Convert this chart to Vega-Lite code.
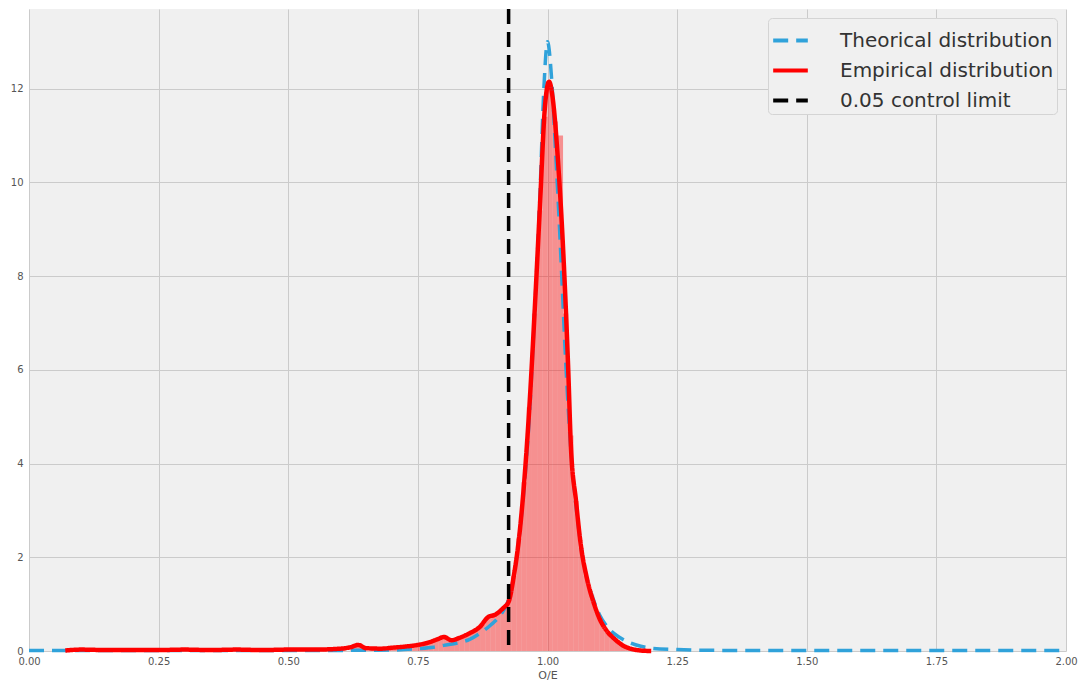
{
  "$schema": "https://vega.github.io/schema/vega-lite/v6.json",
  "width": 1037,
  "height": 642,
  "autosize": {"type": "none"},
  "padding": {"left": 29, "top": 9, "right": 15, "bottom": 37},
  "background": "white",
  "datasets": {
    "hist": [
      {"x0": 0.07, "x1": 0.08, "h": 0.02},
      {"x0": 0.09, "x1": 0.1, "h": 0.03},
      {"x0": 0.1, "x1": 0.11, "h": 0.03},
      {"x0": 0.25, "x1": 0.26, "h": 0.02},
      {"x0": 0.29, "x1": 0.3, "h": 0.04},
      {"x0": 0.39, "x1": 0.4, "h": 0.03},
      {"x0": 0.49, "x1": 0.5, "h": 0.03},
      {"x0": 0.58, "x1": 0.59, "h": 0.04},
      {"x0": 0.6, "x1": 0.61, "h": 0.05},
      {"x0": 0.62, "x1": 0.63, "h": 0.09},
      {"x0": 0.63, "x1": 0.64, "h": 0.12},
      {"x0": 0.64, "x1": 0.65, "h": 0.07},
      {"x0": 0.66, "x1": 0.67, "h": 0.05},
      {"x0": 0.68, "x1": 0.69, "h": 0.05},
      {"x0": 0.69, "x1": 0.7, "h": 0.06},
      {"x0": 0.7, "x1": 0.71, "h": 0.07},
      {"x0": 0.71, "x1": 0.72, "h": 0.08},
      {"x0": 0.72, "x1": 0.73, "h": 0.09},
      {"x0": 0.73, "x1": 0.74, "h": 0.1},
      {"x0": 0.74, "x1": 0.75, "h": 0.12},
      {"x0": 0.75, "x1": 0.76, "h": 0.14},
      {"x0": 0.76, "x1": 0.77, "h": 0.16},
      {"x0": 0.77, "x1": 0.78, "h": 0.19},
      {"x0": 0.78, "x1": 0.79, "h": 0.23},
      {"x0": 0.79, "x1": 0.8, "h": 0.28},
      {"x0": 0.8, "x1": 0.81, "h": 0.28},
      {"x0": 0.81, "x1": 0.82, "h": 0.23},
      {"x0": 0.82, "x1": 0.83, "h": 0.26},
      {"x0": 0.83, "x1": 0.84, "h": 0.3},
      {"x0": 0.84, "x1": 0.85, "h": 0.35},
      {"x0": 0.85, "x1": 0.86, "h": 0.41},
      {"x0": 0.86, "x1": 0.87, "h": 0.48},
      {"x0": 0.87, "x1": 0.88, "h": 0.57},
      {"x0": 0.88, "x1": 0.89, "h": 0.7},
      {"x0": 0.89, "x1": 0.9, "h": 0.76},
      {"x0": 0.9, "x1": 0.91, "h": 0.82},
      {"x0": 0.91, "x1": 0.92, "h": 0.92},
      {"x0": 0.92, "x1": 0.93, "h": 1.1},
      {"x0": 0.93, "x1": 0.94, "h": 1.6},
      {"x0": 0.94, "x1": 0.95, "h": 2.4},
      {"x0": 0.95, "x1": 0.96, "h": 3.6},
      {"x0": 0.96, "x1": 0.97, "h": 5.2},
      {"x0": 0.97, "x1": 0.98, "h": 7.2},
      {"x0": 0.98, "x1": 0.99, "h": 9.4},
      {"x0": 0.99, "x1": 1.0, "h": 11.4},
      {"x0": 1.0, "x1": 1.01, "h": 12.0},
      {"x0": 1.01, "x1": 1.02, "h": 11.3},
      {"x0": 1.02, "x1": 1.03, "h": 11.0},
      {"x0": 1.03, "x1": 1.04, "h": 7.2},
      {"x0": 1.04, "x1": 1.05, "h": 4.6},
      {"x0": 1.05, "x1": 1.06, "h": 3.2},
      {"x0": 1.06, "x1": 1.07, "h": 2.2},
      {"x0": 1.07, "x1": 1.08, "h": 1.6},
      {"x0": 1.08, "x1": 1.09, "h": 1.2},
      {"x0": 1.09, "x1": 1.1, "h": 0.85},
      {"x0": 1.1, "x1": 1.11, "h": 0.6},
      {"x0": 1.11, "x1": 1.12, "h": 0.42},
      {"x0": 1.12, "x1": 1.13, "h": 0.3},
      {"x0": 1.13, "x1": 1.14, "h": 0.2},
      {"x0": 1.14, "x1": 1.15, "h": 0.12},
      {"x0": 1.15, "x1": 1.16, "h": 0.07},
      {"x0": 1.16, "x1": 1.17, "h": 0.04},
      {"x0": 1.17, "x1": 1.18, "h": 0.02},
      {"x0": 1.18, "x1": 1.19, "h": 0.01}
    ],
    "theo": [
      {"series": "Theorical distribution", "x": 0.0, "y": 0.01},
      {"series": "Theorical distribution", "x": 0.5, "y": 0.01},
      {"series": "Theorical distribution", "x": 0.7, "y": 0.02},
      {"series": "Theorical distribution", "x": 0.75, "y": 0.05},
      {"series": "Theorical distribution", "x": 0.78, "y": 0.08},
      {"series": "Theorical distribution", "x": 0.8, "y": 0.12},
      {"series": "Theorical distribution", "x": 0.83, "y": 0.18},
      {"series": "Theorical distribution", "x": 0.85, "y": 0.25},
      {"series": "Theorical distribution", "x": 0.87, "y": 0.38},
      {"series": "Theorical distribution", "x": 0.89, "y": 0.55},
      {"series": "Theorical distribution", "x": 0.91, "y": 0.78},
      {"series": "Theorical distribution", "x": 0.925, "y": 1.1},
      {"series": "Theorical distribution", "x": 0.935, "y": 1.6},
      {"series": "Theorical distribution", "x": 0.945, "y": 2.4},
      {"series": "Theorical distribution", "x": 0.955, "y": 3.5},
      {"series": "Theorical distribution", "x": 0.965, "y": 5.0},
      {"series": "Theorical distribution", "x": 0.975, "y": 7.2},
      {"series": "Theorical distribution", "x": 0.985, "y": 9.6},
      {"series": "Theorical distribution", "x": 0.993, "y": 12.0},
      {"series": "Theorical distribution", "x": 1.0, "y": 13.0},
      {"series": "Theorical distribution", "x": 1.008, "y": 12.2},
      {"series": "Theorical distribution", "x": 1.015, "y": 10.8},
      {"series": "Theorical distribution", "x": 1.025, "y": 8.6},
      {"series": "Theorical distribution", "x": 1.035, "y": 6.2},
      {"series": "Theorical distribution", "x": 1.045, "y": 4.3},
      {"series": "Theorical distribution", "x": 1.055, "y": 3.1},
      {"series": "Theorical distribution", "x": 1.065, "y": 2.2},
      {"series": "Theorical distribution", "x": 1.075, "y": 1.6},
      {"series": "Theorical distribution", "x": 1.09, "y": 1.05},
      {"series": "Theorical distribution", "x": 1.1, "y": 0.78},
      {"series": "Theorical distribution", "x": 1.115, "y": 0.52},
      {"series": "Theorical distribution", "x": 1.13, "y": 0.36},
      {"series": "Theorical distribution", "x": 1.145, "y": 0.25},
      {"series": "Theorical distribution", "x": 1.16, "y": 0.17},
      {"series": "Theorical distribution", "x": 1.18, "y": 0.1},
      {"series": "Theorical distribution", "x": 1.2, "y": 0.06},
      {"series": "Theorical distribution", "x": 1.25, "y": 0.03},
      {"series": "Theorical distribution", "x": 1.3, "y": 0.015},
      {"series": "Theorical distribution", "x": 1.5, "y": 0.01},
      {"series": "Theorical distribution", "x": 2.0, "y": 0.01}
    ],
    "emp": [
      {"series": "Empirical distribution", "x": 0.07, "y": 0.01},
      {"series": "Empirical distribution", "x": 0.1, "y": 0.03},
      {"series": "Empirical distribution", "x": 0.15, "y": 0.02},
      {"series": "Empirical distribution", "x": 0.2, "y": 0.02},
      {"series": "Empirical distribution", "x": 0.25, "y": 0.02},
      {"series": "Empirical distribution", "x": 0.3, "y": 0.03},
      {"series": "Empirical distribution", "x": 0.35, "y": 0.02},
      {"series": "Empirical distribution", "x": 0.4, "y": 0.03},
      {"series": "Empirical distribution", "x": 0.45, "y": 0.02},
      {"series": "Empirical distribution", "x": 0.5, "y": 0.03},
      {"series": "Empirical distribution", "x": 0.55, "y": 0.03},
      {"series": "Empirical distribution", "x": 0.6, "y": 0.05},
      {"series": "Empirical distribution", "x": 0.62, "y": 0.08},
      {"series": "Empirical distribution", "x": 0.635, "y": 0.13},
      {"series": "Empirical distribution", "x": 0.65, "y": 0.06},
      {"series": "Empirical distribution", "x": 0.68, "y": 0.05},
      {"series": "Empirical distribution", "x": 0.7, "y": 0.07},
      {"series": "Empirical distribution", "x": 0.73, "y": 0.1},
      {"series": "Empirical distribution", "x": 0.75, "y": 0.13},
      {"series": "Empirical distribution", "x": 0.77, "y": 0.18},
      {"series": "Empirical distribution", "x": 0.79, "y": 0.26},
      {"series": "Empirical distribution", "x": 0.8, "y": 0.3},
      {"series": "Empirical distribution", "x": 0.815, "y": 0.23},
      {"series": "Empirical distribution", "x": 0.83, "y": 0.28},
      {"series": "Empirical distribution", "x": 0.85, "y": 0.38},
      {"series": "Empirical distribution", "x": 0.87, "y": 0.52},
      {"series": "Empirical distribution", "x": 0.885, "y": 0.72},
      {"series": "Empirical distribution", "x": 0.9, "y": 0.78},
      {"series": "Empirical distribution", "x": 0.915, "y": 0.92},
      {"series": "Empirical distribution", "x": 0.925, "y": 1.05},
      {"series": "Empirical distribution", "x": 0.935, "y": 1.6},
      {"series": "Empirical distribution", "x": 0.945, "y": 2.4},
      {"series": "Empirical distribution", "x": 0.955, "y": 3.6},
      {"series": "Empirical distribution", "x": 0.965, "y": 5.2},
      {"series": "Empirical distribution", "x": 0.975, "y": 7.2},
      {"series": "Empirical distribution", "x": 0.985, "y": 9.4},
      {"series": "Empirical distribution", "x": 0.995, "y": 11.6},
      {"series": "Empirical distribution", "x": 1.003, "y": 12.15},
      {"series": "Empirical distribution", "x": 1.01, "y": 11.8},
      {"series": "Empirical distribution", "x": 1.02, "y": 10.5},
      {"series": "Empirical distribution", "x": 1.03, "y": 8.6},
      {"series": "Empirical distribution", "x": 1.04, "y": 6.0},
      {"series": "Empirical distribution", "x": 1.045, "y": 4.4},
      {"series": "Empirical distribution", "x": 1.055, "y": 3.2},
      {"series": "Empirical distribution", "x": 1.065, "y": 2.2},
      {"series": "Empirical distribution", "x": 1.075, "y": 1.6},
      {"series": "Empirical distribution", "x": 1.09, "y": 1.0},
      {"series": "Empirical distribution", "x": 1.1, "y": 0.7},
      {"series": "Empirical distribution", "x": 1.115, "y": 0.42},
      {"series": "Empirical distribution", "x": 1.13, "y": 0.25},
      {"series": "Empirical distribution", "x": 1.145, "y": 0.12},
      {"series": "Empirical distribution", "x": 1.16, "y": 0.05},
      {"series": "Empirical distribution", "x": 1.18, "y": 0.01},
      {"series": "Empirical distribution", "x": 1.2, "y": 0.0}
    ],
    "limit": [
      {"series": "0.05 control limit", "x": 0.925}
    ]
  },
  "layer": [
    {
      "data": {"name": "hist"},
      "mark": {"type": "rect", "color": "#ff0000", "opacity": 0.4, "strokeWidth": 0},
      "encoding": {
        "x": {"field": "x0", "type": "quantitative", "scale": {"domain": [0, 2], "nice": false, "zero": false}, "axis": {"title": "O/E", "values": [0, 0.25, 0.5, 0.75, 1, 1.25, 1.5, 1.75, 2], "format": ".2f", "labelPadding": 5, "titlePadding": 3, "labelFlush": false}},
        "x2": {"field": "x1"},
        "y": {"field": "h", "type": "quantitative", "scale": {"domain": [0, 13.7], "nice": false, "zero": true}, "axis": {"title": null, "values": [0, 2, 4, 6, 8, 10, 12], "format": "d", "labelPadding": 6, "labelFlush": false}},
        "y2": {"datum": 0}
      }
    },
    {
      "data": {"name": "theo"},
      "mark": {"type": "line", "strokeWidth": 3.5, "interpolate": "monotone"},
      "encoding": {
        "x": {"field": "x", "type": "quantitative"},
        "y": {"field": "y", "type": "quantitative"},
        "color": {"field": "series", "type": "nominal"},
        "strokeDash": {"field": "series", "type": "nominal"}
      }
    },
    {
      "data": {"name": "emp"},
      "mark": {"type": "line", "strokeWidth": 4.5, "interpolate": "monotone"},
      "encoding": {
        "x": {"field": "x", "type": "quantitative"},
        "y": {"field": "y", "type": "quantitative"},
        "color": {"field": "series", "type": "nominal"},
        "strokeDash": {"field": "series", "type": "nominal"}
      }
    },
    {
      "data": {"name": "limit"},
      "mark": {"type": "rule", "strokeWidth": 3.5},
      "encoding": {
        "x": {"field": "x", "type": "quantitative"},
        "color": {
          "field": "series", "type": "nominal",
          "scale": {"domain": ["Theorical distribution", "Empirical distribution", "0.05 control limit"], "range": ["#30a2da", "#ff0000", "#000000"]},
          "legend": {"title": null}
        },
        "strokeDash": {
          "field": "series", "type": "nominal",
          "scale": {"domain": ["Theorical distribution", "Empirical distribution", "0.05 control limit"], "range": [[15, 8], [1, 0], [15, 8]]},
          "legend": {"title": null}
        }
      }
    }
  ],
  "config": {
    "font": "DejaVu Sans",
    "view": {"fill": "#f0f0f0", "stroke": null},
    "axis": {
      "grid": true,
      "gridColor": "#cbcbcb",
      "gridWidth": 1,
      "domain": false,
      "ticks": false,
      "labelFont": "DejaVu Sans",
      "labelFontSize": 10,
      "labelColor": "#555555",
      "titleFont": "DejaVu Sans",
      "titleFontSize": 11,
      "titleFontWeight": "normal",
      "titleColor": "#555555"
    },
    "legend": {
      "orient": "top-right",
      "offset": 9,
      "symbolType": "stroke",
      "symbolSize": 1200,
      "symbolStrokeWidth": 4,
      "labelFont": "DejaVu Sans",
      "labelFontSize": 20,
      "labelColor": "#333333",
      "labelLimit": 400,
      "labelOffset": 30,
      "rowPadding": -5.5,
      "padding": 3,
      "fillColor": "#f0f0f0",
      "strokeColor": "#d4d4d4",
      "cornerRadius": 4
    }
  }
}
